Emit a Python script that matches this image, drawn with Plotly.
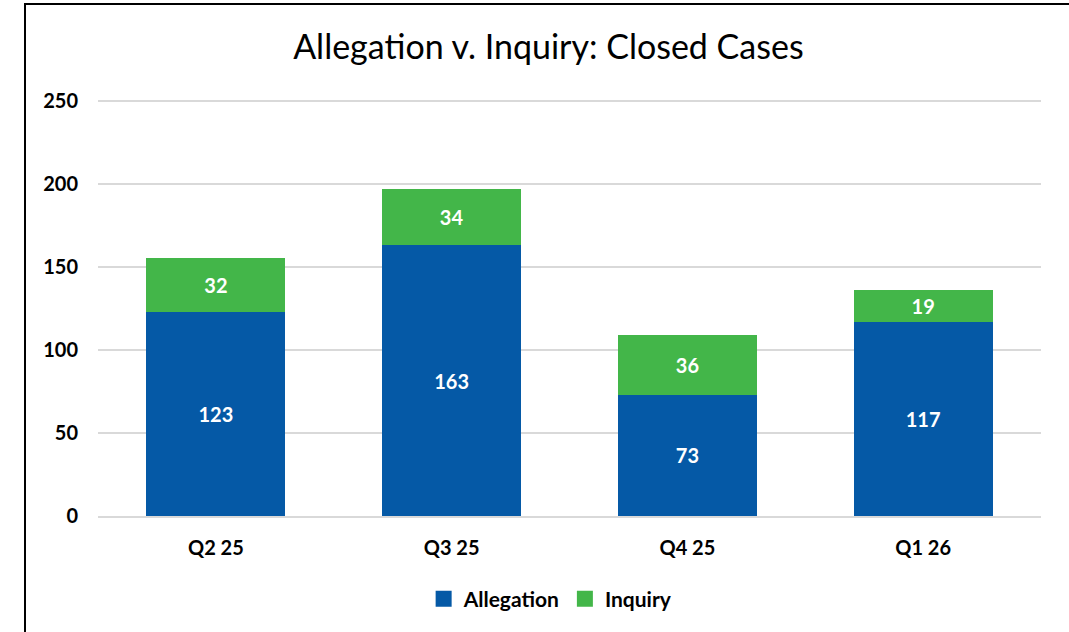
import plotly.graph_objects as go

categories = ["Q2 25", "Q3 25", "Q4 25", "Q1 26"]
allegation = [123, 163, 73, 117]
inquiry = [32, 34, 36, 19]
y_ticks = [0, 50, 100, 150, 200, 250]

FONT = "Lato"
BLUE = "#0559A6"
GREEN = "#43B649"
LABEL_FONT = dict(family=FONT, size=20, color="white", weight="bold")

fig = go.Figure()
for name, vals, col in [("Allegation", allegation, BLUE), ("Inquiry", inquiry, GREEN)]:
    fig.add_trace(go.Bar(
        name=name, x=categories, y=vals, marker_color=col, marker_line_width=0,
        text=vals, textposition="inside", insidetextanchor="middle",
        textfont=LABEL_FONT, showlegend=False, legendgroup=name,
    ))
for name, col in [("Allegation", BLUE), ("Inquiry", GREEN)]:
    fig.add_trace(go.Scatter(
        name=name, x=[None], y=[None], mode="markers", legendgroup=name,
        marker=dict(symbol="square", size=16, color=col), showlegend=True,
    ))

W, H = 1069, 632
ml, mr, mt, mb = 98, 28, 99, 116
pw, ph = W - ml - mr, H - mt - mb

def px_x(px):
    return (px - ml) / pw

def px_y(py):
    return (H - mb - py) / ph

fig.update_layout(
    width=W, height=H,
    barmode="stack", bargap=0.41,
    margin=dict(l=ml, r=mr, t=mt, b=mb),
    paper_bgcolor="white", plot_bgcolor="white",
    title=dict(text="Allegation v. Inquiry: Closed Cases", x=0.513, xanchor="center",
               y=1 - 47 / H, yanchor="middle",
               font=dict(family=FONT, size=34, color="black")),
    font=dict(family=FONT, color="black"),
    legend=dict(orientation="h", x=0.48, xanchor="center", y=px_y(599), yanchor="middle",
                font=dict(family=FONT, size=21, color="black", weight="bold"),
                itemwidth=30, traceorder="normal", itemsizing="trace"),
    xaxis=dict(showgrid=False, showline=True, linecolor="#d9d9d9", linewidth=1.5,
               tickfont=dict(family=FONT, size=20, color="black", weight="bold"),
               ticks="outside", ticklen=13, tickcolor="rgba(0,0,0,0)"),
    yaxis=dict(range=[0, 251], tickvals=y_ticks, showgrid=True, gridcolor="#d9d9d9",
               gridwidth=1.5, zeroline=False, showline=False,
               tickfont=dict(family=FONT, size=20, color="black", weight="bold"),
               ticks="outside", ticklen=15, tickcolor="rgba(0,0,0,0)"),
    shapes=[dict(type="rect", xref="paper", yref="paper",
                 x0=px_x(25), x1=px_x(1080), y0=px_y(645), y1=px_y(4),
                 line=dict(color="black", width=2), fillcolor="rgba(0,0,0,0)", layer="below")],
)

fig.write_html("out.html", config={"displayModeBar": False},
               post_script="document.body.style.margin='0';")
